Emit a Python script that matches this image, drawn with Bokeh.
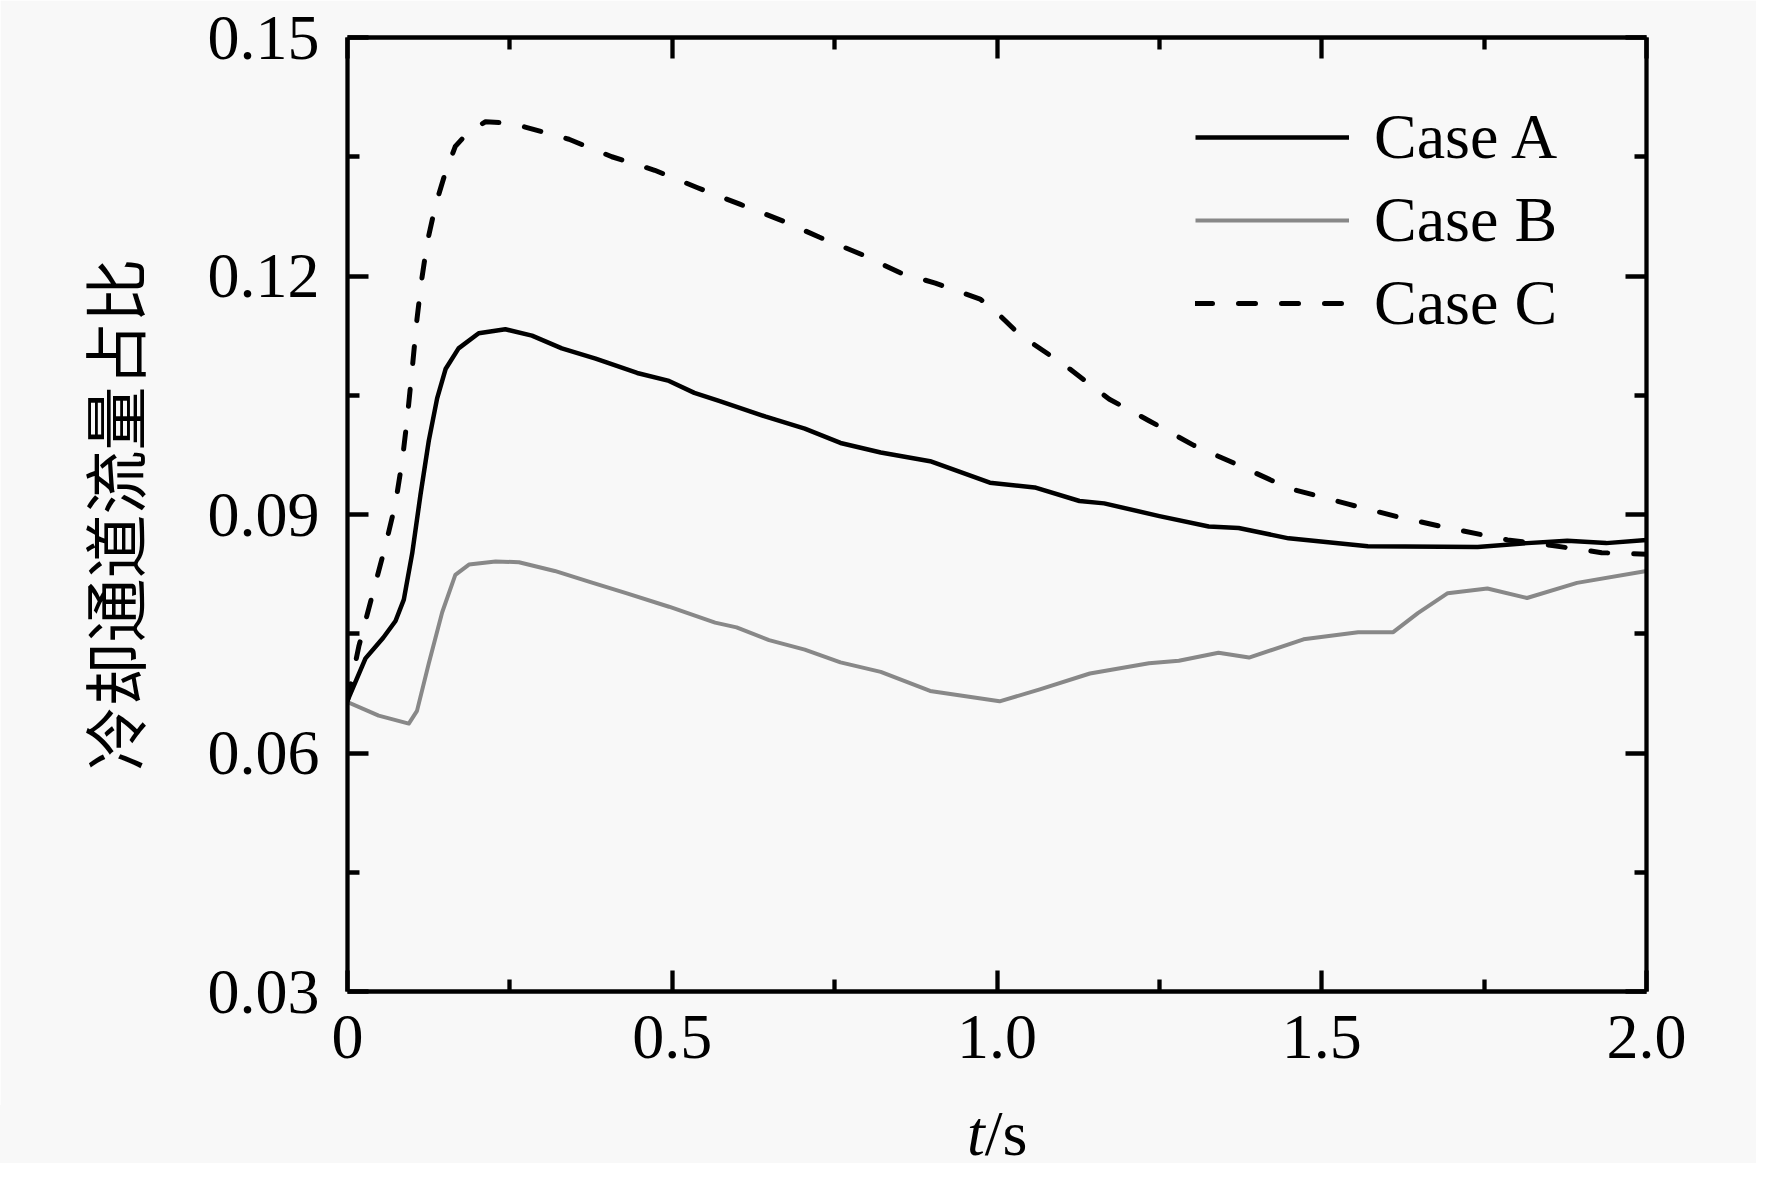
from bokeh.plotting import figure
from bokeh.layouts import column
from bokeh.models import (Range1d, LinearAxis, FixedTicker, PrintfTickFormatter,
                          CustomJSTickFormatter, Legend, LegendItem, Div)
from bokeh.embed import file_html
from bokeh.resources import INLINE

# ---------------- data ----------------
t_a = [0, 0.0277, 0.055, 0.0739, 0.0867, 0.0996, 0.1124, 0.1252, 0.138, 0.151, 0.171,
       0.202, 0.243, 0.284, 0.330, 0.382, 0.446, 0.495, 0.534, 0.572, 0.644, 0.704,
       0.759, 0.821, 0.897, 0.989, 1.058, 1.127, 1.165, 1.25, 1.326, 1.372, 1.449,
       1.571, 1.74, 1.816, 1.878, 1.938, 2.0]
y_a = [0.0666, 0.0719, 0.0745, 0.0766, 0.0793, 0.0851, 0.0925, 0.0993, 0.1046, 0.1083,
       0.1109, 0.1128, 0.1133, 0.1125, 0.1109, 0.1096, 0.1078, 0.1068, 0.1053, 0.1043,
       0.1023, 0.1008, 0.0990, 0.0978, 0.0967, 0.0940, 0.0934, 0.0917, 0.0914, 0.0898,
       0.0885, 0.0883, 0.0870, 0.0860, 0.0859, 0.0864, 0.0867, 0.0864, 0.0868]

t_b = [0, 0.048, 0.0944, 0.107, 0.1252, 0.1458, 0.166, 0.187, 0.228, 0.264, 0.319,
       0.374, 0.429, 0.495, 0.566, 0.599, 0.649, 0.704, 0.759, 0.821, 0.897, 1.004,
       1.066, 1.143, 1.234, 1.28, 1.341, 1.388, 1.472, 1.556, 1.61, 1.648, 1.694,
       1.755, 1.816, 1.893, 2.0]
y_b = [0.0664, 0.0647, 0.0637, 0.0653, 0.0713, 0.0777, 0.0824, 0.0837, 0.0841, 0.0840,
       0.0829, 0.0815, 0.0801, 0.0784, 0.0764, 0.0758, 0.0742, 0.0730, 0.0714, 0.0702,
       0.0678, 0.0665, 0.0680, 0.0700, 0.0713, 0.0716, 0.0726, 0.0720, 0.0743, 0.0752,
       0.0752, 0.0776, 0.0801, 0.0807, 0.0795, 0.0814, 0.0829]

t_c = [0, 0.0174, 0.038, 0.0585, 0.0739, 0.0842, 0.0919, 0.0996, 0.107, 0.114, 0.1227,
       0.1355, 0.151, 0.166, 0.187, 0.2125, 0.2535, 0.275, 0.341, 0.407, 0.473, 0.539,
       0.605, 0.671, 0.726, 0.792, 0.851, 0.905, 0.974, 0.996, 1.035, 1.104, 1.173,
       1.234, 1.303, 1.372, 1.449, 1.541, 1.617, 1.701, 1.786, 1.855, 1.931, 2.0]
y_c = [0.0666, 0.0734, 0.0798, 0.0861, 0.0914, 0.0967, 0.1020, 0.1083, 0.1146, 0.1194,
       0.1242, 0.1289, 0.1331, 0.1363, 0.1382, 0.1394, 0.1392, 0.1387, 0.1372, 0.1350,
       0.1333, 0.1311, 0.1290, 0.1269, 0.1249, 0.1227, 0.1204, 0.1191, 0.1171, 0.1157,
       0.1126, 0.1088, 0.1045, 0.1018, 0.0987, 0.0962, 0.0933, 0.0913, 0.0897, 0.0882,
       0.0868, 0.0861, 0.0852, 0.0850]

series_names = ["Case A", "Case B", "Case C"]
x_ticks = [0, 0.5, 1.0, 1.5, 2.0]
x_minor = [0.25, 0.75, 1.25, 1.75]
y_ticks = [0.03, 0.06, 0.09, 0.12, 0.15]
y_minor = [0.045, 0.075, 0.105, 0.135]
y_label = "冷却通道流量占比"
x_label_var = "t"
x_label_unit = "/s"

# ---------------- style ----------------
BG = "#f8f8f8"
SERIF = "Liberation Serif"
FS = "64px"
ALW = 4.3   # axis / tick width
LW = 4.5    # curve width
W = 1756
FIG_H = 1105
LAB_H = 58

p = figure(width=W, height=FIG_H,
           x_range=Range1d(0, 2), y_range=Range1d(0.03, 0.15),
           output_backend="svg", toolbar_location=None,
           min_border_left=347, min_border_right=110,
           min_border_top=37, min_border_bottom=FIG_H - 991,
           background_fill_color=BG, border_fill_color=BG,
           outline_line_color=None)
p.xgrid.visible = False
p.ygrid.visible = False

def style_axis(ax, show_labels):
    ax.axis_line_width = ALW
    ax.axis_line_color = "black"
    ax.major_tick_in = 21
    ax.major_tick_out = 0
    ax.minor_tick_in = 12
    ax.minor_tick_out = 0
    ax.major_tick_line_width = ALW
    ax.minor_tick_line_width = ALW
    ax.major_tick_line_color = "black"
    ax.minor_tick_line_color = "black"
    ax.major_label_text_font = SERIF
    ax.major_label_text_color = "black"
    ax.major_label_text_font_size = FS
    if not show_labels:
        ax.formatter = CustomJSTickFormatter(code="return ''")
        ax.major_label_standoff = 0

xb = p.xaxis[0]
xb.ticker = FixedTicker(ticks=x_ticks, minor_ticks=x_minor)
xb.formatter = PrintfTickFormatter(format="%.1f")
xb.major_label_overrides = {0: "0"}
style_axis(xb, True)
xb.major_label_standoff = 24

yl = p.yaxis[0]
yl.ticker = FixedTicker(ticks=y_ticks, minor_ticks=y_minor)
yl.formatter = PrintfTickFormatter(format="%.2f")
style_axis(yl, True)
yl.major_label_standoff = 28
yl.axis_label = y_label
yl.axis_label_text_font = "Noto Sans CJK SC"
yl.axis_label_text_font_size = FS
yl.axis_label_text_font_style = "normal"
yl.axis_label_text_color = "black"
yl.axis_label_standoff = 47

xtop = LinearAxis(ticker=FixedTicker(ticks=x_ticks, minor_ticks=x_minor))
style_axis(xtop, False)
p.add_layout(xtop, "above")
yright = LinearAxis(ticker=FixedTicker(ticks=y_ticks, minor_ticks=y_minor))
style_axis(yright, False)
p.add_layout(yright, "right")

ra = p.line(t_a, y_a, line_color="black", line_width=LW, line_join="round")
rb = p.line(t_b, y_b, line_color="#888888", line_width=4, line_join="round")
rc = p.line(t_c, y_c, line_color="black", line_width=5, line_dash="17 26",
            line_cap="round", line_join="round")

legend = Legend(items=[LegendItem(label=series_names[0], renderers=[ra]),
                       LegendItem(label=series_names[1], renderers=[rb]),
                       LegendItem(label=series_names[2], renderers=[rc])],
                location=(848, 651), orientation="vertical",
                label_text_font=SERIF, label_text_font_size=FS,
                label_text_color="black",
                glyph_width=154, glyph_height=60, label_height=60,
                label_standoff=25, spacing=9, padding=0, margin=0,
                background_fill_alpha=0, border_line_color=None)
p.add_layout(legend)

# x-axis title "t/s" (t in italics), centred under the x axis (frame centre x = 997)
xlab = Div(text=('<div style="margin-left:967px;font-family:\'%s\';font-size:%s;'
                 'line-height:%dpx;color:black;white-space:nowrap;">'
                 '<i>%s</i>%s</div>') % (SERIF, FS, LAB_H, x_label_var, x_label_unit),
           width=W, height=LAB_H,
           styles={"background-color": BG, "margin": "0", "padding": "0"})

layout = column(p, xlab, spacing=0)

html = file_html(layout, INLINE)
html = html.replace("<body>", '<body style="background-color:#f8f8f8;">', 1)
open("out.html", "w").write(html)
